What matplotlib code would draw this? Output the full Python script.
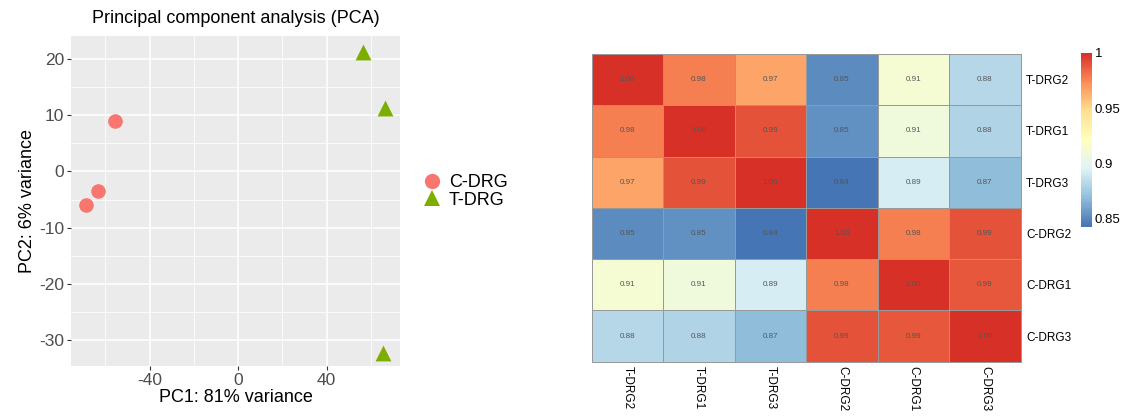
import numpy as np
import matplotlib
matplotlib.use("Agg")
import matplotlib.pyplot as plt
from matplotlib.colors import LinearSegmentedColormap, Normalize
from matplotlib.lines import Line2D

plt.rcParams['font.family'] = ['Liberation Sans', 'DejaVu Sans']
plt.rcParams['axes.unicode_minus'] = False

# ---------------- data ----------------
groups = ["C-DRG", "T-DRG"]
c_pc1 = [-55.5, -63.4, -68.8]
c_pc2 = [8.9, -3.4, -5.9]
t_pc1 = [56.6, 66.4, 65.7]
t_pc2 = [21.2, 11.3, -32.2]
pc1_label = "PC1: 81% variance"
pc2_label = "PC2: 6% variance"
x_ticks = [-40, 0, 40]
y_ticks = [-30, -20, -10, 0, 10, 20]

samples = ["T-DRG2", "T-DRG1", "T-DRG3", "C-DRG2", "C-DRG1", "C-DRG3"]
corr = np.array([
    [1.000, 0.978, 0.967, 0.852, 0.913, 0.881],
    [0.978, 1.000, 0.990, 0.853, 0.908, 0.880],
    [0.967, 0.990, 1.000, 0.843, 0.892, 0.869],
    [0.852, 0.853, 0.843, 1.000, 0.978, 0.990],
    [0.913, 0.908, 0.892, 0.978, 1.000, 0.988],
    [0.881, 0.880, 0.869, 0.990, 0.988, 1.000],
])
cbar_ticks = [0.85, 0.9, 0.95, 1.0]
cbar_ticklabels = ["0.85", "0.9", "0.95", "1"]

# ---------------- figure ----------------
fig = plt.figure(figsize=(11.26, 4.16), dpi=100)

# PCA panel
ax = fig.add_axes([0.0631, 0.1202, 0.2922, 0.7933])
ax.set_facecolor("#EBEBEB")
ax.set_xlim(-75.5, 73.2)
ax.set_ylim(-34.6, 24.1)
ax.set_xticks(x_ticks)
ax.set_yticks(y_ticks)
ax.set_xticks([-60, -20, 20, 60], minor=True)
ax.set_yticks([-25, -15, -5, 5, 15], minor=True)
ax.grid(which="major", color="white", linewidth=1.1)
ax.grid(which="minor", color="white", linewidth=0.55)
ax.set_axisbelow(True)
for s in ax.spines.values():
    s.set_visible(False)
ax.tick_params(which="major", length=3, width=0.8, color="#333333",
               labelsize=12.5, labelcolor="#4D4D4D", pad=2)
ax.tick_params(which="minor", length=0)
ax.scatter(c_pc1, c_pc2, s=110, marker="o", color="#F8766D", linewidths=0, zorder=3)
ax.scatter(t_pc1, t_pc2, s=130, marker="^", color="#7CAE00", linewidths=0, zorder=3)
ax.set_xlabel(pc1_label, fontsize=13, color="black", labelpad=1)
ax.set_ylabel(pc2_label, fontsize=13, color="black", labelpad=2)
ax.set_title("Principal component analysis (PCA)", fontsize=13, pad=9)

handles = [
    Line2D([], [], marker="o", color="#F8766D", linestyle="", markersize=11, markeredgewidth=0),
    Line2D([], [], marker="^", color="#7CAE00", linestyle="", markersize=12, markeredgewidth=0),
]
fig.legend(handles, groups, loc="center left", bbox_to_anchor=(0.368, 0.54),
           frameon=False, fontsize=13, handletextpad=0.3, labelspacing=0.05,
           handlelength=1.2, borderaxespad=0)

# Heatmap panel
colors = ["#4575B4", "#91BFDB", "#E0F3F8", "#FFFFBF", "#FEE090", "#FC8D59", "#D73027"]
cmap = LinearSegmentedColormap.from_list("rdylbu_r", colors, N=100)
vmin, vmax = 0.843, 1.0
norm = Normalize(vmin=vmin, vmax=vmax)

hax = fig.add_axes([0.5255, 0.1305, 0.381, 0.7397])
n = len(samples)
mesh = hax.pcolormesh(np.arange(n + 1), np.arange(n + 1), corr, cmap=cmap, norm=norm,
                      edgecolors="#999999", linewidth=0.6)
mesh.set_clip_on(False)
hax.set_xlim(0, n)
hax.set_ylim(n, 0)
for i in range(n):
    for j in range(n):
        hax.text(j + 0.5, i + 0.5, f"{corr[i, j]:.2f}", ha="center", va="center",
                 fontsize=5.8, color="#555555")
for s in hax.spines.values():
    s.set_visible(False)
hax.set_xticks(np.arange(n) + 0.5)
hax.set_yticks(np.arange(n) + 0.5)
hax.set_xticklabels(samples, rotation=-90, fontsize=8.5)
hax.set_yticklabels(samples, fontsize=8.5)
hax.yaxis.tick_right()
hax.tick_params(axis="x", length=0, pad=3)
hax.tick_params(axis="y", length=0, pad=4)
for lbl in hax.get_xticklabels():
    lbl.set_va("top")
    lbl.set_ha("center")

# Colorbar
cax = fig.add_axes([0.9598, 0.455, 0.0098, 0.4183])
sm = plt.cm.ScalarMappable(norm=norm, cmap=cmap)
cb = fig.colorbar(sm, cax=cax)
cb.outline.set_visible(False)
cb.set_ticks(cbar_ticks)
cb.set_ticklabels(cbar_ticklabels)
cax.tick_params(length=0, labelsize=9.5, pad=2)

fig.savefig("out.png", dpi=100, facecolor="white")
